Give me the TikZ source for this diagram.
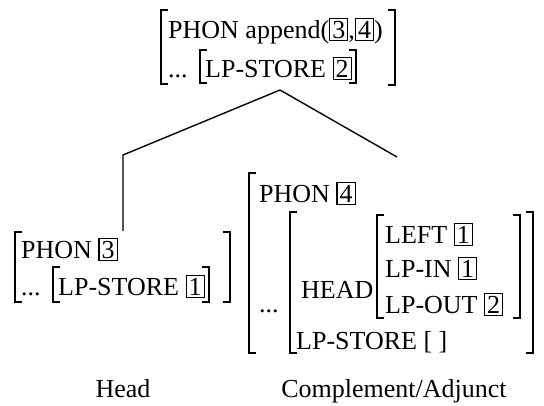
\documentclass[tikz,border=0pt]{standalone}
\usepackage{fontspec}
\setmainfont{Liberation Serif}
\usetikzlibrary{calc}
\newcommand\tg[1]{{\setlength\fboxsep{2pt}\setlength\fboxrule{1.1pt}\fbox{#1}}}
\newcommand\LBr[3]{\draw[br] ({#1+7},#2) -- (#1,#2) -- (#1,#3) -- ({#1+7},#3);}
\newcommand\RBr[3]{\draw[br] ({#1-7},#2) -- (#1,#2) -- (#1,#3) -- ({#1-7},#3);}
% right bracket placed just after a node
\newcommand\RBn[4]{\draw[br] let \p1=(#1.east) in
  ({\x1+#2-7},#3) -- ({\x1+#2},#3) -- ({\x1+#2},#4) -- ({\x1+#2-7},#4);}
\begin{document}
\begin{tikzpicture}[x=1pt,y=-1pt,
  txt/.style={anchor=base west, inner sep=0pt, font=\fontsize{26}{30}\selectfont},
  br/.style={line width=1.3pt},
  edge/.style={line width=1.4pt}]
\useasboundingbox (0,0) rectangle (544,405);
% top AVM
\LBr{161}{10}{84}
\RBr{395}{10}{85}
\node[txt] (top1) at (168,38) {PHON append(\tg{3},\tg{4})};
\node[txt] (top2) at (168,77) {...};
\LBr{200}{50}{83}
\node[txt] (top3) at (205,77) {LP-STORE \tg{2}};
\RBn{top3}{4}{50}{83}
% tree
\coordinate (apex) at (280,90);
\coordinate (lbend) at (123,155);
\coordinate (lend) at (123,231);
\coordinate (rend) at (397,157);
\draw[edge] (apex) -- (lbend) -- (lend);
\draw[edge] (apex) -- (rend);
% left AVM
\LBr{15}{232}{302}
\RBr{230}{232}{302}
\node[txt] (l1) at (21,258) {PHON \tg{3}};
\node[txt] (l2) at (21,295) {...};
\LBr{53}{267}{302}
\node[txt] (l3) at (58,295) {LP-STORE \tg{1}};
\RBn{l3}{4}{267}{302}
% right AVM
\LBr{249}{173}{353}
\RBr{551}{173}{355}
\node[txt] (r1) at (259,202) {PHON \tg{4}};
\node[txt] (r2) at (259,312) {...};
\LBr{290}{212}{353}
\RBr{533}{212}{353}
\node[txt] (r3) at (301,298) {HEAD};
\LBr{377}{215}{318}
\RBr{520}{215}{318}
\node[txt] (r4) at (385,243) {LEFT \tg{1}};
\node[txt] (r5) at (385,277) {LP-IN \tg{1}};
\node[txt] (r6) at (385,313) {LP-OUT \tg{2}};
\node[txt] (r7) at (296,349) {LP-STORE [ ]};
% labels
\node[txt, anchor=base] (hd) at (123,397) {Head};
\node[txt, anchor=base] (ca) at (394,397) {Complement/Adjunct};
\end{tikzpicture}
\end{document}
